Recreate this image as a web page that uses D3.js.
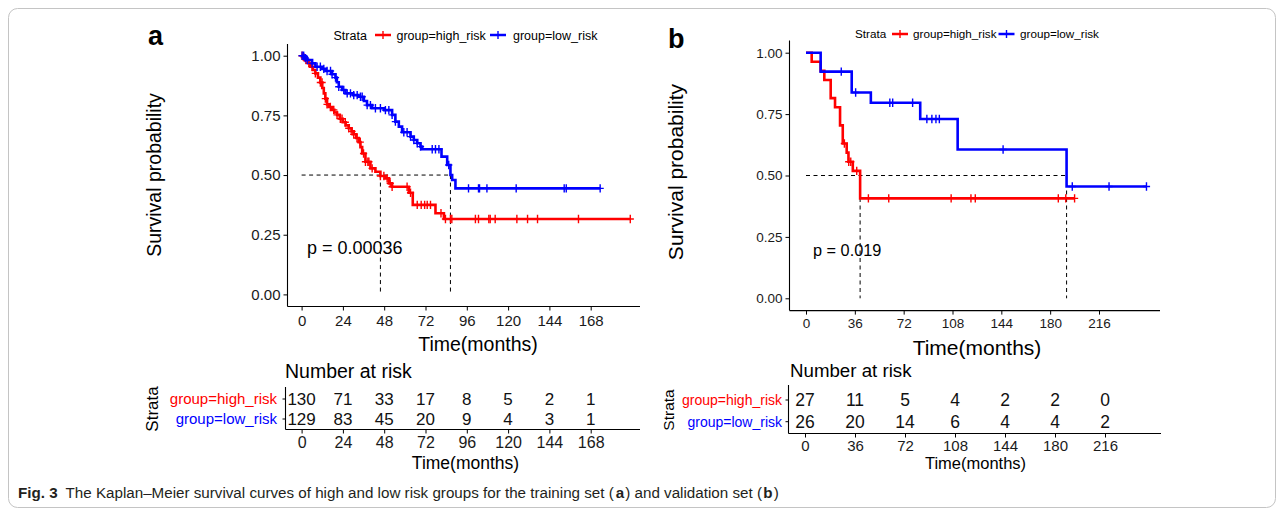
<!DOCTYPE html>
<html><head><meta charset="utf-8">
<script src="https://cdn.jsdelivr.net/npm/d3@7"></script>
<style>
body{margin:0;background:#fff}
svg{display:block}
text{font-family:"Liberation Sans",Arial,Helvetica,sans-serif}
</style>
</head><body>
<svg id="c" width="1284" height="515"></svg>
<script>
// ---------------- DATA ----------------
const groups = ["group=high_risk", "group=low_risk"];
const yTicks = [0, 0.25, 0.5, 0.75, 1];

// Panel a (training set): KM step points [time, survival]
const aHighSteps = [[0,1],[1,0.992],[2.5,0.982],[4,0.969],[5.1,0.954],[6.5,0.94],[8,0.926],[9.5,0.908],[10.9,0.888],[12,0.865],[12.9,0.842],[13.8,0.82],[14.8,0.796],[16,0.785],[17.7,0.773],[19,0.762],[20.6,0.752],[22.2,0.736],[23.9,0.721],[25.6,0.708],[27.4,0.696],[29,0.683],[30.3,0.671],[31.8,0.655],[33.2,0.638],[34.2,0.617],[35.2,0.59],[37.1,0.556],[40,0.528],[42.9,0.514],[45.8,0.496],[48.7,0.486],[50.7,0.465],[52.6,0.451],[62.3,0.426],[64.6,0.375],[77.8,0.340],[82.7,0.316]];
const aHighCensor = [0.3,1.5,2.6,4.2,6.1,8,10.9,11.9,13.8,14.8,16.7,18.7,20.6,22.5,23.5,25.4,27.4,29.3,30.3,32.2,34.1,36,37.1,38.5,39.1,41,45.8,47.8,49.7,51.5,52.6,61.3,63.3,67.2,69.5,71.5,73,74.9,81,83.6,86.5,87.3,101,102.8,108.8,109.6,112.5,125.1,131.3,137.1,160.9,191];
const aLowSteps = [[0,1],[2,0.99],[3.2,0.982],[6.1,0.968],[8,0.954],[11.9,0.945],[14,0.936],[17.7,0.922],[19.7,0.908],[20.5,0.889],[21.6,0.870],[23.5,0.856],[25.5,0.842],[30,0.835],[33,0.828],[36.2,0.81],[38,0.793],[41,0.780],[48,0.772],[52.6,0.752],[54.5,0.724],[56.5,0.703],[58.4,0.679],[63.3,0.661],[65.2,0.647],[67.2,0.633],[69.1,0.619],[70.1,0.608],[81.3,0.577],[84.6,0.542],[86.5,0.5],[87.5,0.479],[89.4,0.444]];
const aLowCensor = [0.3,1.2,2.2,3.3,6.1,9,10.9,12.9,14.8,16.8,17.7,19.7,21.6,24.5,26.5,28.4,30.3,32.3,34.2,35.2,38.1,40,42.9,45.8,48.7,50.7,52.6,54.5,59.4,61.3,63.3,65.2,67.2,69.1,75.9,77.8,79.8,85.5,97,102.8,103.4,107.7,124.7,152.6,153.8,173.5];
const aTicks = [0,24,48,72,96,120,144,168];
const aRiskHigh = [130,71,33,17,8,5,2,1];
const aRiskLow = [129,83,45,20,9,4,3,1];
const aPValue = "p = 0.00036";

// Panel b (validation set)
const bHighSteps = [[0,1],[4.2,0.963],[10.8,0.926],[13.5,0.889],[18.2,0.815],[21.4,0.778],[25.1,0.704],[27.1,0.630],[30,0.593],[31.3,0.556],[34.5,0.519],[39.9,0.407]];
const bHighCensor = [28.3,31.5,33,37.4,46,61,107,121.6,124.8,186,191.5,198];
const bLowSteps = [[0,1],[10.8,0.923],[33.7,0.838],[47.8,0.796],[84.2,0.73],[111.8,0.606],[192.1,0.455]];
const bLowCensor = [26,36.6,61.8,63.9,78.6,89.1,92.8,95.8,98.3,145.3,196.3,223.4,251];
const bTicks = [0,36,72,108,144,180,216];
const bRiskHigh = [27,11,5,4,2,2,0];
const bRiskLow = [26,20,14,6,4,4,2];
const bPValue = "p = 0.019";

const captionPieces = [["Fig. 3", true], ["The Kaplan\u2013Meier survival curves of high and low risk groups for the training set (", false], ["a", true], [") and validation set (", false], ["b", true], [")", false]];

// ---------------- DRAWING ----------------
const RED = "#ff0000", BLUE = "#0000ff";
const svg = d3.select("#c");

// figure frame
svg.append("rect").attr("x",8.5).attr("y",8.5).attr("width",1267).attr("height",499)
  .attr("rx",9).attr("fill","none").attr("stroke","#c4c4c4").attr("stroke-width",1);

function survAt(steps, t){ let s = 1; for (const [tt,v] of steps){ if (tt <= t) s = v; else break; } return s; }
function median(steps){ for (const [tt,v] of steps){ if (v <= 0.5) return tt; } return null; }

function styleAxis(sel, fs){
  sel.attr("font-size", fs).attr("font-family", '"Liberation Sans",Arial,sans-serif');
  sel.select(".domain").remove();
  sel.selectAll(".tick line").attr("stroke","#000").attr("stroke-width",1);
  sel.selectAll(".tick text").attr("fill","#1a1a1a").attr("font-size", fs).style("font-size",fs+"px");
}

function panel(o){
  const g = svg.append("g");
  const x = d3.scaleLinear().domain([0, o.ticks[o.ticks.length-1]]).range(o.xr);
  const y = d3.scaleLinear().domain([0,1]).range(o.yr);

  // panel label
  g.append("text").attr("x",o.lab[0]).attr("y",o.lab[1]).text(o.label)
    .style("font-size",o.labFs+"px").style("font-weight","bold").attr("fill","#000");

  // legend
  const L = o.legend;
  g.append("text").attr("x",L.x).attr("y",L.y + L.fs*0.36).text("Strata").style("font-size",L.fs+"px");
  const items = [{c:RED, t:groups[0], sx:L.s1, tx:L.t1},{c:BLUE, t:groups[1], sx:L.s2, tx:L.t2}];
  items.forEach(it=>{
    g.append("line").attr("x1",it.sx).attr("x2",it.sx+16).attr("y1",L.y).attr("y2",L.y)
      .attr("stroke",it.c).attr("stroke-width",2.5);
    g.append("line").attr("x1",it.sx+8).attr("x2",it.sx+8).attr("y1",L.y-4).attr("y2",L.y+4)
      .attr("stroke",it.c).attr("stroke-width",1.4);
    g.append("text").attr("x",it.tx).attr("y",L.y + L.fs*0.36).text(it.t).style("font-size",L.fs+"px");
  });

  // axes lines
  g.append("line").attr("x1",o.axX).attr("x2",o.axX).attr("y1",o.axTop).attr("y2",o.axBot)
    .attr("stroke","#000").attr("stroke-width",1.1);
  g.append("line").attr("x1",o.axX).attr("x2",o.axRight).attr("y1",o.axBot).attr("y2",o.axBot)
    .attr("stroke","#000").attr("stroke-width",1.1);

  const yAx = d3.axisLeft(y).tickValues(yTicks).tickFormat(d3.format(".2f")).tickSize(4).tickPadding(o.yPad);
  g.append("g").attr("transform",`translate(${o.axX},0)`).call(yAx).call(s=>styleAxis(s,o.tickFs));
  const xAx = d3.axisBottom(x).tickValues(o.ticks).tickFormat(d3.format("d")).tickSize(4).tickPadding(o.xPad);
  g.append("g").attr("transform",`translate(0,${o.axBot})`).call(xAx).call(s=>styleAxis(s,o.tickFs));

  // axis titles
  g.append("text").attr("text-anchor","middle")
    .attr("transform",`translate(${o.yTitle[0]+o.titleFs*0.3},${o.yTitle[1]}) rotate(-90)`)
    .text("Survival probability").style("font-size",o.titleFs+"px");
  g.append("text").attr("text-anchor","middle").attr("x",o.xTitle[0]).attr("y",o.xTitle[1])
    .text("Time(months)").style("font-size",o.titleFs+"px");

  // median dashed lines
  const mH = median(o.high.steps), mL = median(o.low.steps);
  const mMax = Math.max(mH, mL);
  const dl = (x1,y1,x2,y2)=> g.append("line").attr("x1",x1).attr("y1",y1).attr("x2",x2).attr("y2",y2)
      .attr("stroke","#000").attr("stroke-width",1).attr("stroke-dasharray","4,3.5");
  dl(x(0), y(0.5), x(mMax), y(0.5));
  dl(x(mH), y(0.5), x(mH), y(0));
  dl(x(mL), y(0.5), x(mL), y(0));

  // curves
  const line = d3.line().x(d=>x(d[0])).y(d=>y(d[1])).curve(d3.curveStepAfter);
  [o.high, o.low].forEach(s=>{
    const end = d3.max(s.censor);
    const pts = s.steps.concat([[end, survAt(s.steps,end)]]);
    g.append("path").attr("d",line(pts)).attr("fill","none").attr("stroke",s.color).attr("stroke-width",2.6);
    g.selectAll(null).data(s.censor).join("path")
      .attr("transform",d=>`translate(${x(d)},${y(survAt(s.steps,d))})`)
      .attr("d","M-3.6,0H3.6M0,-4.2V4.2").attr("stroke",s.color).attr("stroke-width",1.4).attr("fill","none");
  });

  // p value
  g.append("text").attr("x",o.p[0]).attr("y",o.p[1]+o.pFs*0.36).text(o.pText).style("font-size",o.pFs+"px");

  // ---- risk table ----
  const R = o.risk;
  const xr = d3.scaleLinear().domain([0, o.ticks[o.ticks.length-1]]).range(R.xr);
  g.append("text").attr("x",R.titleX).attr("y",R.titleY).text("Number at risk").style("font-size",R.titleFs+"px");
  g.append("line").attr("x1",R.axX).attr("x2",R.axX).attr("y1",R.axTop).attr("y2",R.axBot).attr("stroke","#000").attr("stroke-width",1.1);
  g.append("line").attr("x1",R.axX).attr("x2",R.axRight).attr("y1",R.axBot).attr("y2",R.axBot).attr("stroke","#000").attr("stroke-width",1.1);
  const rows = [{c:RED, t:groups[0], v:o.riskHigh, y:R.rows[0]},{c:BLUE, t:groups[1], v:o.riskLow, y:R.rows[1]}];
  rows.forEach(r=>{
    g.append("line").attr("x1",R.axX-3).attr("x2",R.axX).attr("y1",r.y).attr("y2",r.y).attr("stroke","#000");
    g.append("text").attr("x",R.labRight).attr("y",r.y+R.labFs*0.36).attr("text-anchor","end")
      .attr("fill",r.c).text(r.t).style("font-size",R.labFs+"px");
    g.selectAll(null).data(o.ticks).join("text")
      .attr("x",(d)=>xr(d)).attr("y",r.y+R.numFs*0.36).attr("text-anchor","middle")
      .text((d,i)=>r.v[i]).style("font-size",R.numFs+"px").attr("fill","#111");
  });
  const xAxR = d3.axisBottom(xr).tickValues(o.ticks).tickFormat(d3.format("d")).tickSize(4).tickPadding(R.xPad);
  g.append("g").attr("transform",`translate(0,${R.axBot})`).call(xAxR).call(s=>styleAxis(s,R.tickFs));
  g.append("text").attr("text-anchor","middle").attr("x",R.xTitle[0]).attr("y",R.xTitle[1])
    .text("Time(months)").style("font-size",R.xTitleFs+"px");
  g.append("text").attr("text-anchor","middle")
    .attr("transform",`translate(${R.strata[0]+R.strataFs*0.36},${R.strata[1]}) rotate(-90)`)
    .text("Strata").style("font-size",R.strataFs+"px");
}

panel({
  label:"a", lab:[148,45], labFs:27,
  legend:{x:333.5, y:35, fs:12.5, s1:375, t1:396.5, s2:490, t2:513},
  ticks:aTicks, xr:[301.6,590.7], yr:[294.4,55.7],
  axX:287.5, axTop:44, axBot:306.5, axRight:640,
  tickFs:15, yPad:3, xPad:5,
  titleFs:19.5, yTitle:[155,175], xTitle:[478,351],
  high:{steps:aHighSteps, censor:aHighCensor, color:RED},
  low:{steps:aLowSteps, censor:aLowCensor, color:BLUE},
  p:[307,248], pFs:18, pText:aPValue,
  riskHigh:aRiskHigh, riskLow:aRiskLow,
  risk:{xr:[301.6,590.7], titleX:285, titleY:378, titleFs:19.5,
        axX:285.5, axTop:387, axBot:429.5, axRight:640, rows:[399,419],
        labRight:277, labFs:15, numFs:17, tickFs:16, xPad:3,
        xTitle:[465.5,469], xTitleFs:17.5, strata:[152,409], strataFs:17}
});

panel({
  label:"b", lab:[668,48], labFs:27,
  legend:{x:855, y:34, fs:11.7, s1:892, t1:913, s2:998.5, t2:1020},
  ticks:bTicks, xr:[806,1099], yr:[298.3,52.7],
  axX:789.5, axTop:40.5, axBot:310.6, axRight:1160,
  tickFs:13.5, yPad:3, xPad:4,
  titleFs:21, yTitle:[677,172], xTitle:[977,355],
  high:{steps:bHighSteps, censor:bHighCensor, color:RED},
  low:{steps:bLowSteps, censor:bLowCensor, color:BLUE},
  p:[813,250], pFs:16.3, pText:bPValue,
  riskHigh:bRiskHigh, riskLow:bRiskLow,
  risk:{xr:[805,1105], titleX:790, titleY:377, titleFs:18.7,
        axX:788.5, axTop:385, axBot:433.5, axRight:1161, rows:[400,421.7],
        labRight:782, labFs:14, numFs:17.5, tickFs:15, xPad:3,
        xTitle:[975.5,469], xTitleFs:16.5, strata:[668,410], strataFs:15.5}
});

// caption: separate pieces inside a horizontally condensed group
const capFont = '"Liberation Sans",sans-serif';
const capGap = 8, capX0 = 18, capX1 = 780;
const capG = svg.append("g");
const capNodes = captionPieces.map(([t,b])=>{
  const n = capG.append("text").attr("y",0).style("font-family",capFont).style("font-size","15.5px")
    .style("font-weight", b ? "bold" : "normal").attr("fill","#231f20").text(t);
  return {n, w:n.node().getComputedTextLength()};
});
const gaps = captionPieces.map((p,i)=> i===0 ? capGap : 1.2);
const natural = d3.sum(capNodes, d=>d.w) + d3.sum(gaps);
const f = Math.min(1, (capX1 - capX0) / natural);
let cx = 0;
capNodes.forEach((d,i)=>{ d.n.attr("x",cx); cx += d.w + gaps[i]; });
capG.attr("transform",`translate(${capX0},497.5) scale(${f},1)`);
</script>
</body></html>
